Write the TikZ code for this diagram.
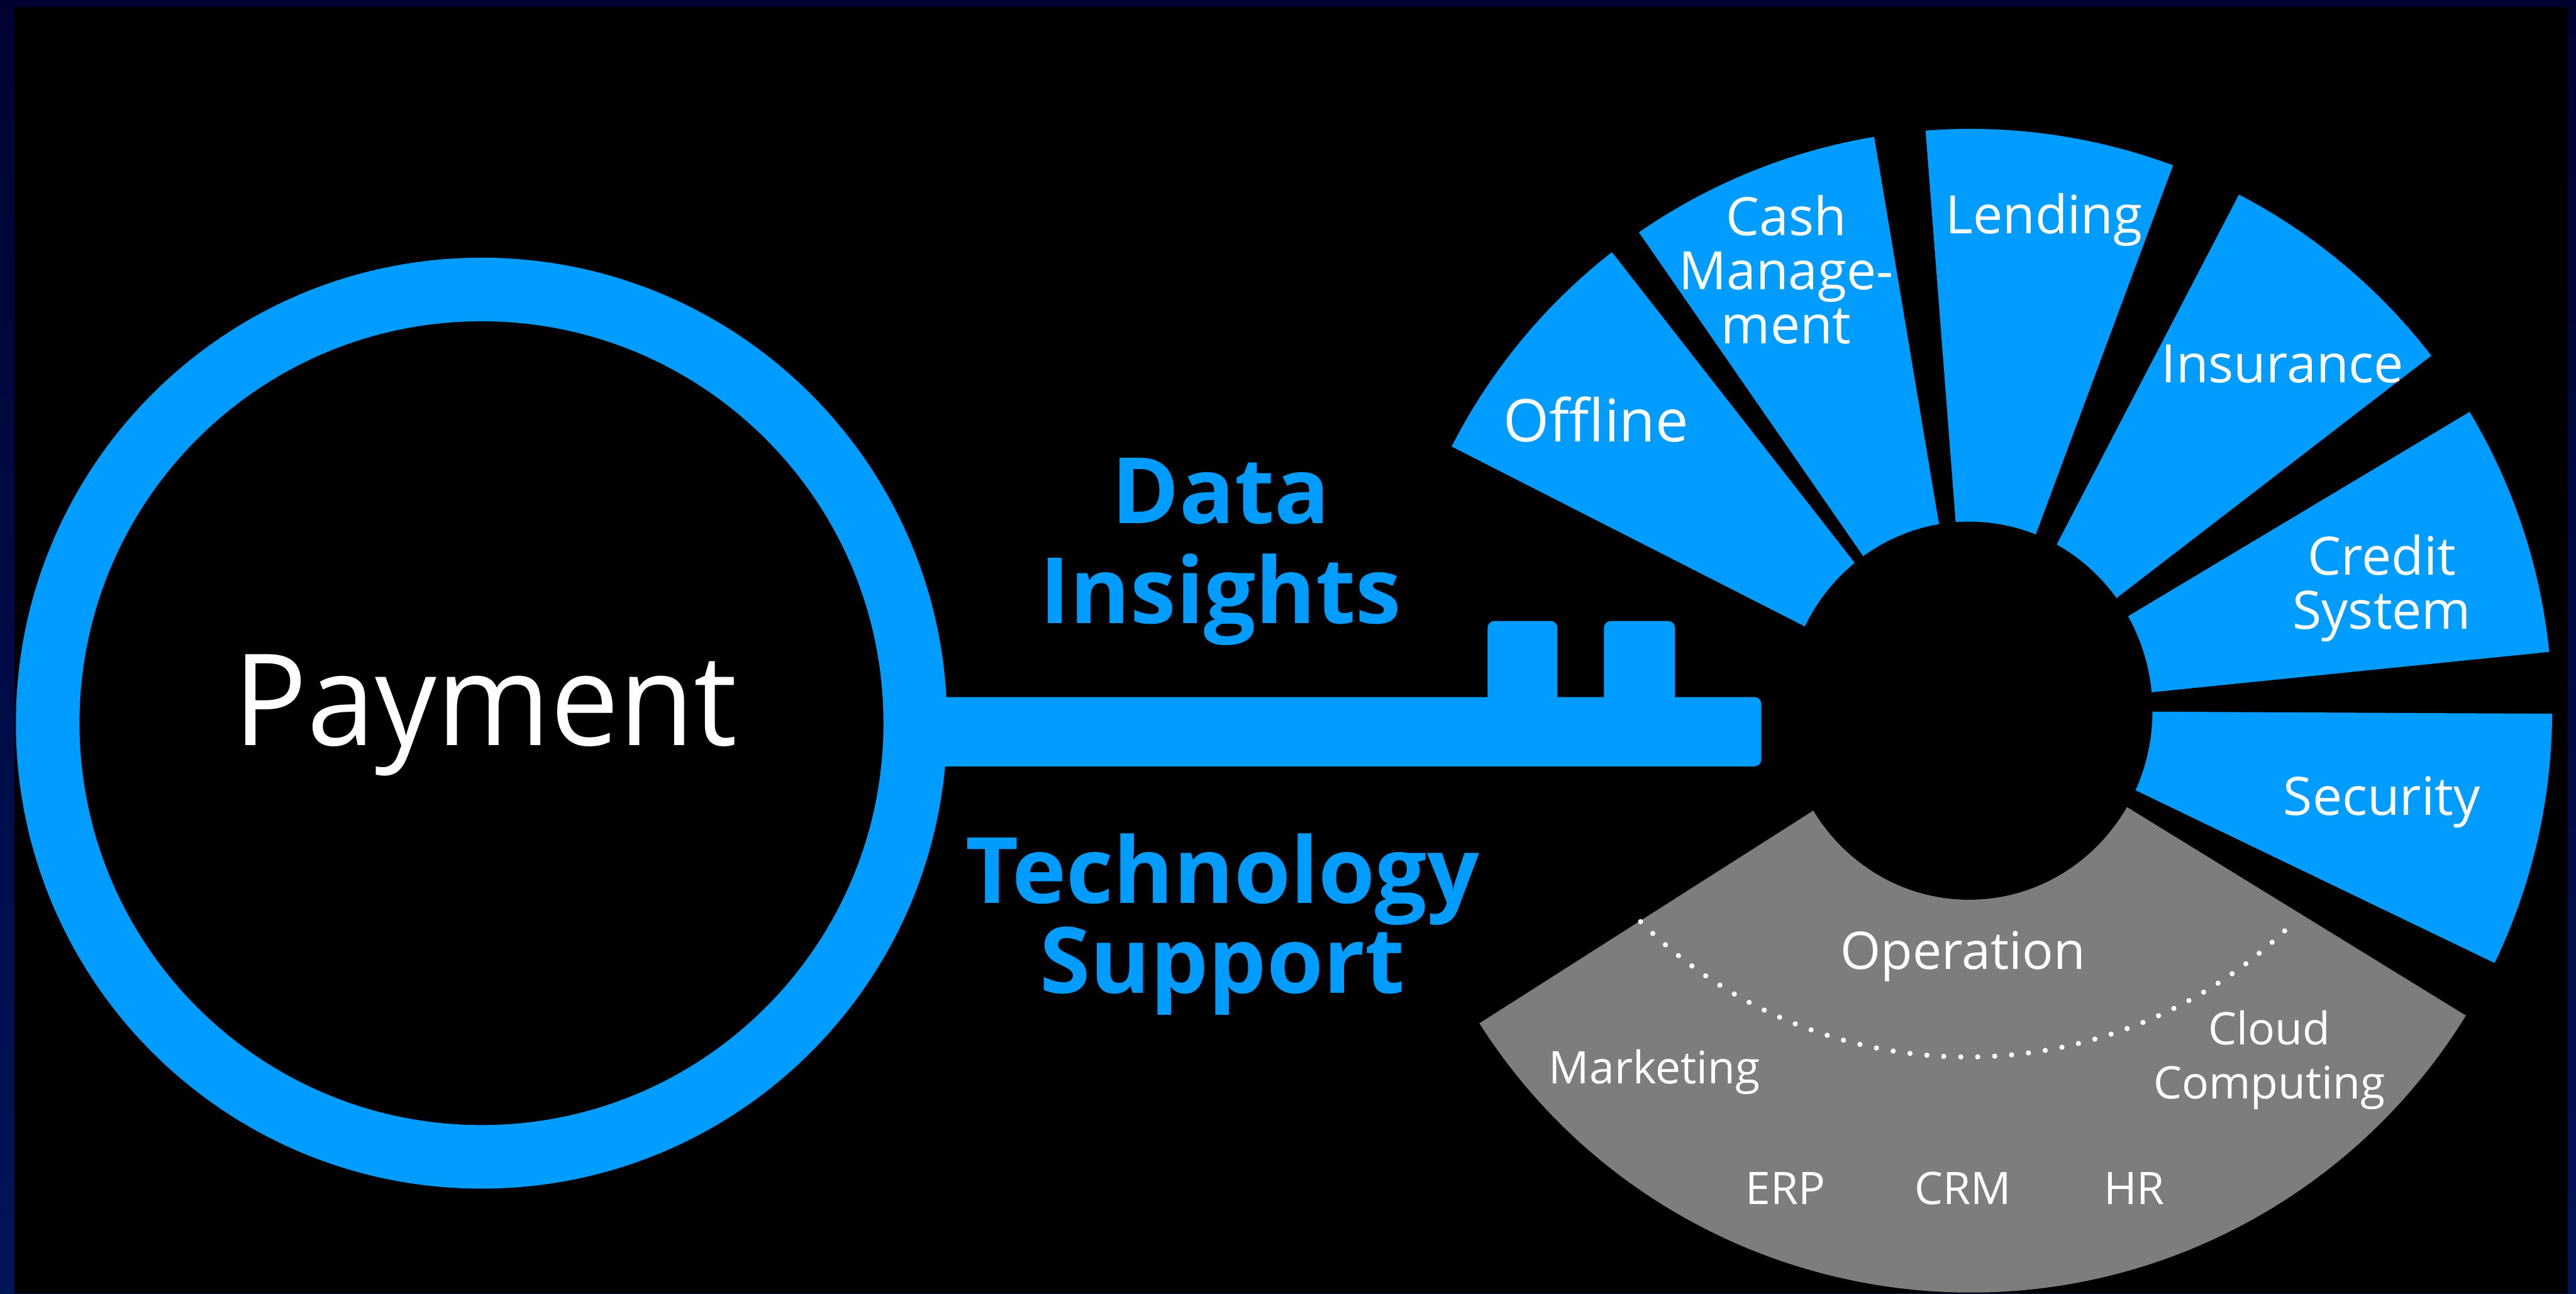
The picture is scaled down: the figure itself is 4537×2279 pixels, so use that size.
\documentclass[tikz,border=0pt]{standalone}
\usepackage{fontspec}
\setmainfont{Open Sans}
\newfontfamily\paymentfont[FakeStretch=0.96]{Open Sans}
\definecolor{keyblue}{RGB}{0,156,255}
\definecolor{opsgray}{RGB}{125,125,125}
\definecolor{framenavy}{RGB}{0,2,50}
\definecolor{framenavylow}{RGB}{0,20,88}
\tikzset{
  keypart/.style={fill=keyblue},
  seclabel/.style={text=white, align=center, anchor=base,
    font=\fontsize{26.5}{27}\selectfont, inner sep=0pt},
  opslabel/.style={text=white, align=center, anchor=base,
    font=\fontsize{22.5}{27.3}\selectfont, inner sep=0pt},
  keylabel/.style={text=keyblue, align=center, anchor=base,
    inner sep=0pt},
  dotline/.style={white, line width=2.6pt, line cap=round,
    dash pattern=on 0pt off 8.5pt}
}
\begin{document}
\begin{tikzpicture}[x=0.01cm,y=0.01cm]
  \useasboundingbox (0,0) rectangle (4537,2279);
  % frame and black canvas
  \shade[top color=framenavy, bottom color=framenavylow] (0,0) rectangle (4537,2279);
  \fill[black] (25,0) rectangle (4523,2267);

  % key: ring, shaft and teeth
  \coordinate (ringc) at (848,1005);
  \fill[keypart, even odd rule] (ringc) circle[radius=820] (ringc) circle[radius=708];
  \fill[keypart, rounded corners=0.12cm] (1620,929) -- (3102,929) -- (3102,1051) -- (1620,1051) -- cycle;
  \fill[keypart, rounded corners=0.12cm] (2620,1000) -- (2620,1185) -- (2743,1185) -- (2743,1000) -- cycle;
  \fill[keypart, rounded corners=0.12cm] (2825,1000) -- (2825,1185) -- (2950,1185) -- (2950,1000) -- cycle;

  % fan of services
  \coordinate (fanc) at (3470,1027);
  \foreach \a/\b in {128/153, 99.5/124.7, 69.6/94.4, 37.6/62.5, 5.8/30.9, -25.7/-0.3}
    \fill[keyblue] (fanc) -- ++(\a:1025) arc[start angle=\a, end angle=\b, radius=1025] -- cycle;
  \fill[opsgray] (fanc) -- ++(-147.5:1025) arc[start angle=-147.5, end angle=-31.6, radius=1025] -- cycle;
  \fill[black] (3468,1027) ellipse[x radius=323, y radius=333];

  % dotted boundary of the operation zone
  \coordinate (opsc) at (3465,1231);
  \draw[dotline] (opsc) ++(-135:814) arc[start angle=-135, end angle=-45, radius=814];

  % labels (multi-line nodes sit on the baseline of their last line)
  \node[text=white, anchor=base, inner sep=0pt, font=\paymentfont\fontsize{63.8}{64}\selectfont] (payment) at (855,966) {Payment};
  \node[keylabel, font=\bfseries\fontsize{45.9}{50}\selectfont] (data) at (2150,1181) {Data\\Insights};
  \node[keylabel, font=\bfseries\fontsize{45.9}{43}\selectfont] (tech) at (2153,529) {Technology\\Support};

  \node[seclabel, font=\fontsize{29.5}{30}\selectfont] (offline) at (2811,1501) {Offline};
  \node[seclabel] (cash) at (3146,1674) {Cash\\Manage-\\ment};
  \node[seclabel] (lending) at (3600,1867) {Lending};
  \node[seclabel] (insurance) at (4020,1605) {Insurance};
  \node[seclabel] (credit) at (4195,1171) {Credit\\System};
  \node[seclabel] (security) at (4195,843) {Security};

  \node[opslabel, font=\fontsize{26}{27}\selectfont] (operation) at (3457,572) {Operation};
  \node[opslabel] (marketing) at (2914,370) {Marketing};
  \node[opslabel] (cloud) at (3997,343) {Cloud\\Computing};
  \node[opslabel] (erp) at (3145,157) {ERP};
  \node[opslabel] (crm) at (3457,157) {CRM};
  \node[opslabel] (hr) at (3759,157) {HR};
\end{tikzpicture}
\end{document}
